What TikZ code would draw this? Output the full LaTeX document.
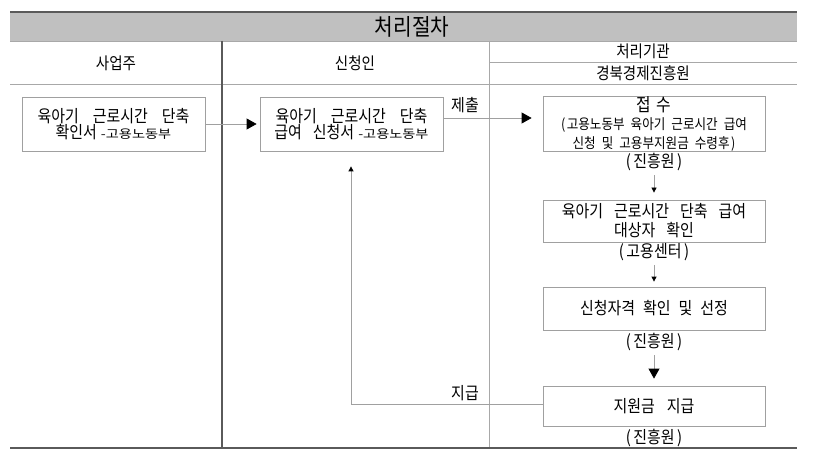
\documentclass[tikz,border=0pt]{standalone}
\usepackage{graphicx}
\usepackage{fontspec}
\setmainfont{Noto Sans CJK KR}[FakeStretch=0.88]
\usetikzlibrary{arrows.meta}
\definecolor{hdr}{HTML}{C0C0C0}
\definecolor{linegray}{HTML}{A8A8A8}
\definecolor{boxgray}{HTML}{A0A0A0}
\definecolor{darkline}{HTML}{5A5A5A}
\newcommand{\smallmin}[1]{\hspace{4pt}\scalebox{0.95}[0.7]{#1}}
\newcommand{\paren}[1]{(\hspace{2.5pt}#1\hspace{2.5pt})}
\newcommand{\setsp}[1]{\spaceskip=#1\relax}
\begin{document}
\begin{tikzpicture}[x=1pt,y=-1pt,
  every node/.style={inner sep=0pt, text=black},
  stepbox/.style={draw=boxgray, line width=0.8pt, align=center, minimum width=222,
    font=\fontsize{17}{19}\selectfont, execute at begin node={\setsp{11pt}}},
  widebox/.style={stepbox, minimum width=183, minimum height=54,
    font=\fontsize{17}{17}\selectfont, execute at begin node={\setsp{14pt}}},
  hfont/.style={font=\fontsize{16.5}{18}\selectfont},
  lbl/.style={font=\fontsize{17}{18}\selectfont},
  conn/.style={draw=boxgray, line width=0.8pt},
  bigtip/.style={-{Triangle[length=10pt,width=11pt,black]}},
  smalltip/.style={-{Triangle[length=5pt,width=5pt,black]}}
]
\useasboundingbox (0,0) rectangle (813,462);
% header
\fill[hdr] (10,12) rectangle (797,41);
\draw[darkline, line width=1.5pt] (10,12) -- (797,12);
\draw[linegray, line width=0.8pt] (10,41) -- (797,41);
\draw[linegray, line width=0.8pt] (10,84) -- (797,84);
\draw[linegray, line width=0.8pt] (489,62) -- (797,62);
\draw[darkline, line width=1.1pt] (222,41) -- (222,448);
\draw[linegray, line width=0.8pt] (489,41) -- (489,448);
\draw[darkline, line width=1.1pt] (10,448) -- (797,448);
\node[font=\fontsize{23}{24}\selectfont] (title) at (412,27) {처리절차};
\node[hfont] (h1) at (116,63) {사업주};
\node[hfont] (h2) at (355,63) {신청인};
\node[hfont] (h3) at (643,51) {처리기관};
\node[hfont] (h4) at (643,73) {경북경제진흥원};
% boxes
\node[widebox] (b1) at (113.5,124)
  {육아기 근로시간 단축\\[-1pt]확인서\smallmin{-고용노동부}};
\node[widebox] (b2) at (351.5,124)
  {육아기 근로시간 단축\\[-1pt]급여\hspace{11pt}신청서\smallmin{-고용노동부}};
\node[stepbox, minimum height=54] (b3) at (654,124)
  {{\fontsize{18}{17}\selectfont 접\hspace{6pt}수}\\[-1pt]{\fontsize{14.3}{15}\selectfont\setsp{6pt}(\hspace{1.5pt}고용노동부 육아기 근로시간 급여}\\{\fontsize{14.3}{15}\selectfont\setsp{6pt}신청 및 고용부지원금 수령후\hspace{1.5pt})}};
\node[lbl] (l3) at (654,162) {\paren{진흥원}};
\node[stepbox, minimum height=42] (b4) at (654,221)
  {육아기 근로시간 단축 급여\\대상자 확인};
\node[lbl] (l4) at (654,252) {\paren{고용센터}};
\node[stepbox, minimum height=43, execute at begin node={\setsp{8pt}}] (b5) at (654,308.5) {신청자격 확인 및 선정};
\node[lbl] (l5) at (654,342) {\paren{진흥원}};
\node[stepbox, minimum height=40, execute at begin node={\setsp{12pt}}] (b6) at (654,406) {지원금 지급};
\node[lbl] (l6) at (654,438) {\paren{진흥원}};
% connectors
\draw[conn, bigtip, shorten >=3pt] (b1.east) -- (b2.west);
\draw[conn, bigtip, shorten >=11pt] (b2.east |- 0,118) coordinate (s2) -- (b3.west |- s2);
\node[lbl, anchor=south] (t1) at (465,113) {제출};
\draw[conn, smalltip, shorten <=4pt, shorten >=7pt] (l3.south) -- (b4.north);
\draw[conn, smalltip, shorten <=4pt, shorten >=5pt] (l4.south) -- (b5.north);
\draw[conn, bigtip, shorten <=4pt, shorten >=7pt] (l5.south) -- (b6.north);
\coordinate (c1) at (351,404);
\draw[conn, smalltip, shorten >=15pt] (b6.west |- c1) -- (c1) -- (c1 |- b2.south);
\node[lbl, anchor=south] (t2) at (465,401) {지급};
\end{tikzpicture}
\end{document}
